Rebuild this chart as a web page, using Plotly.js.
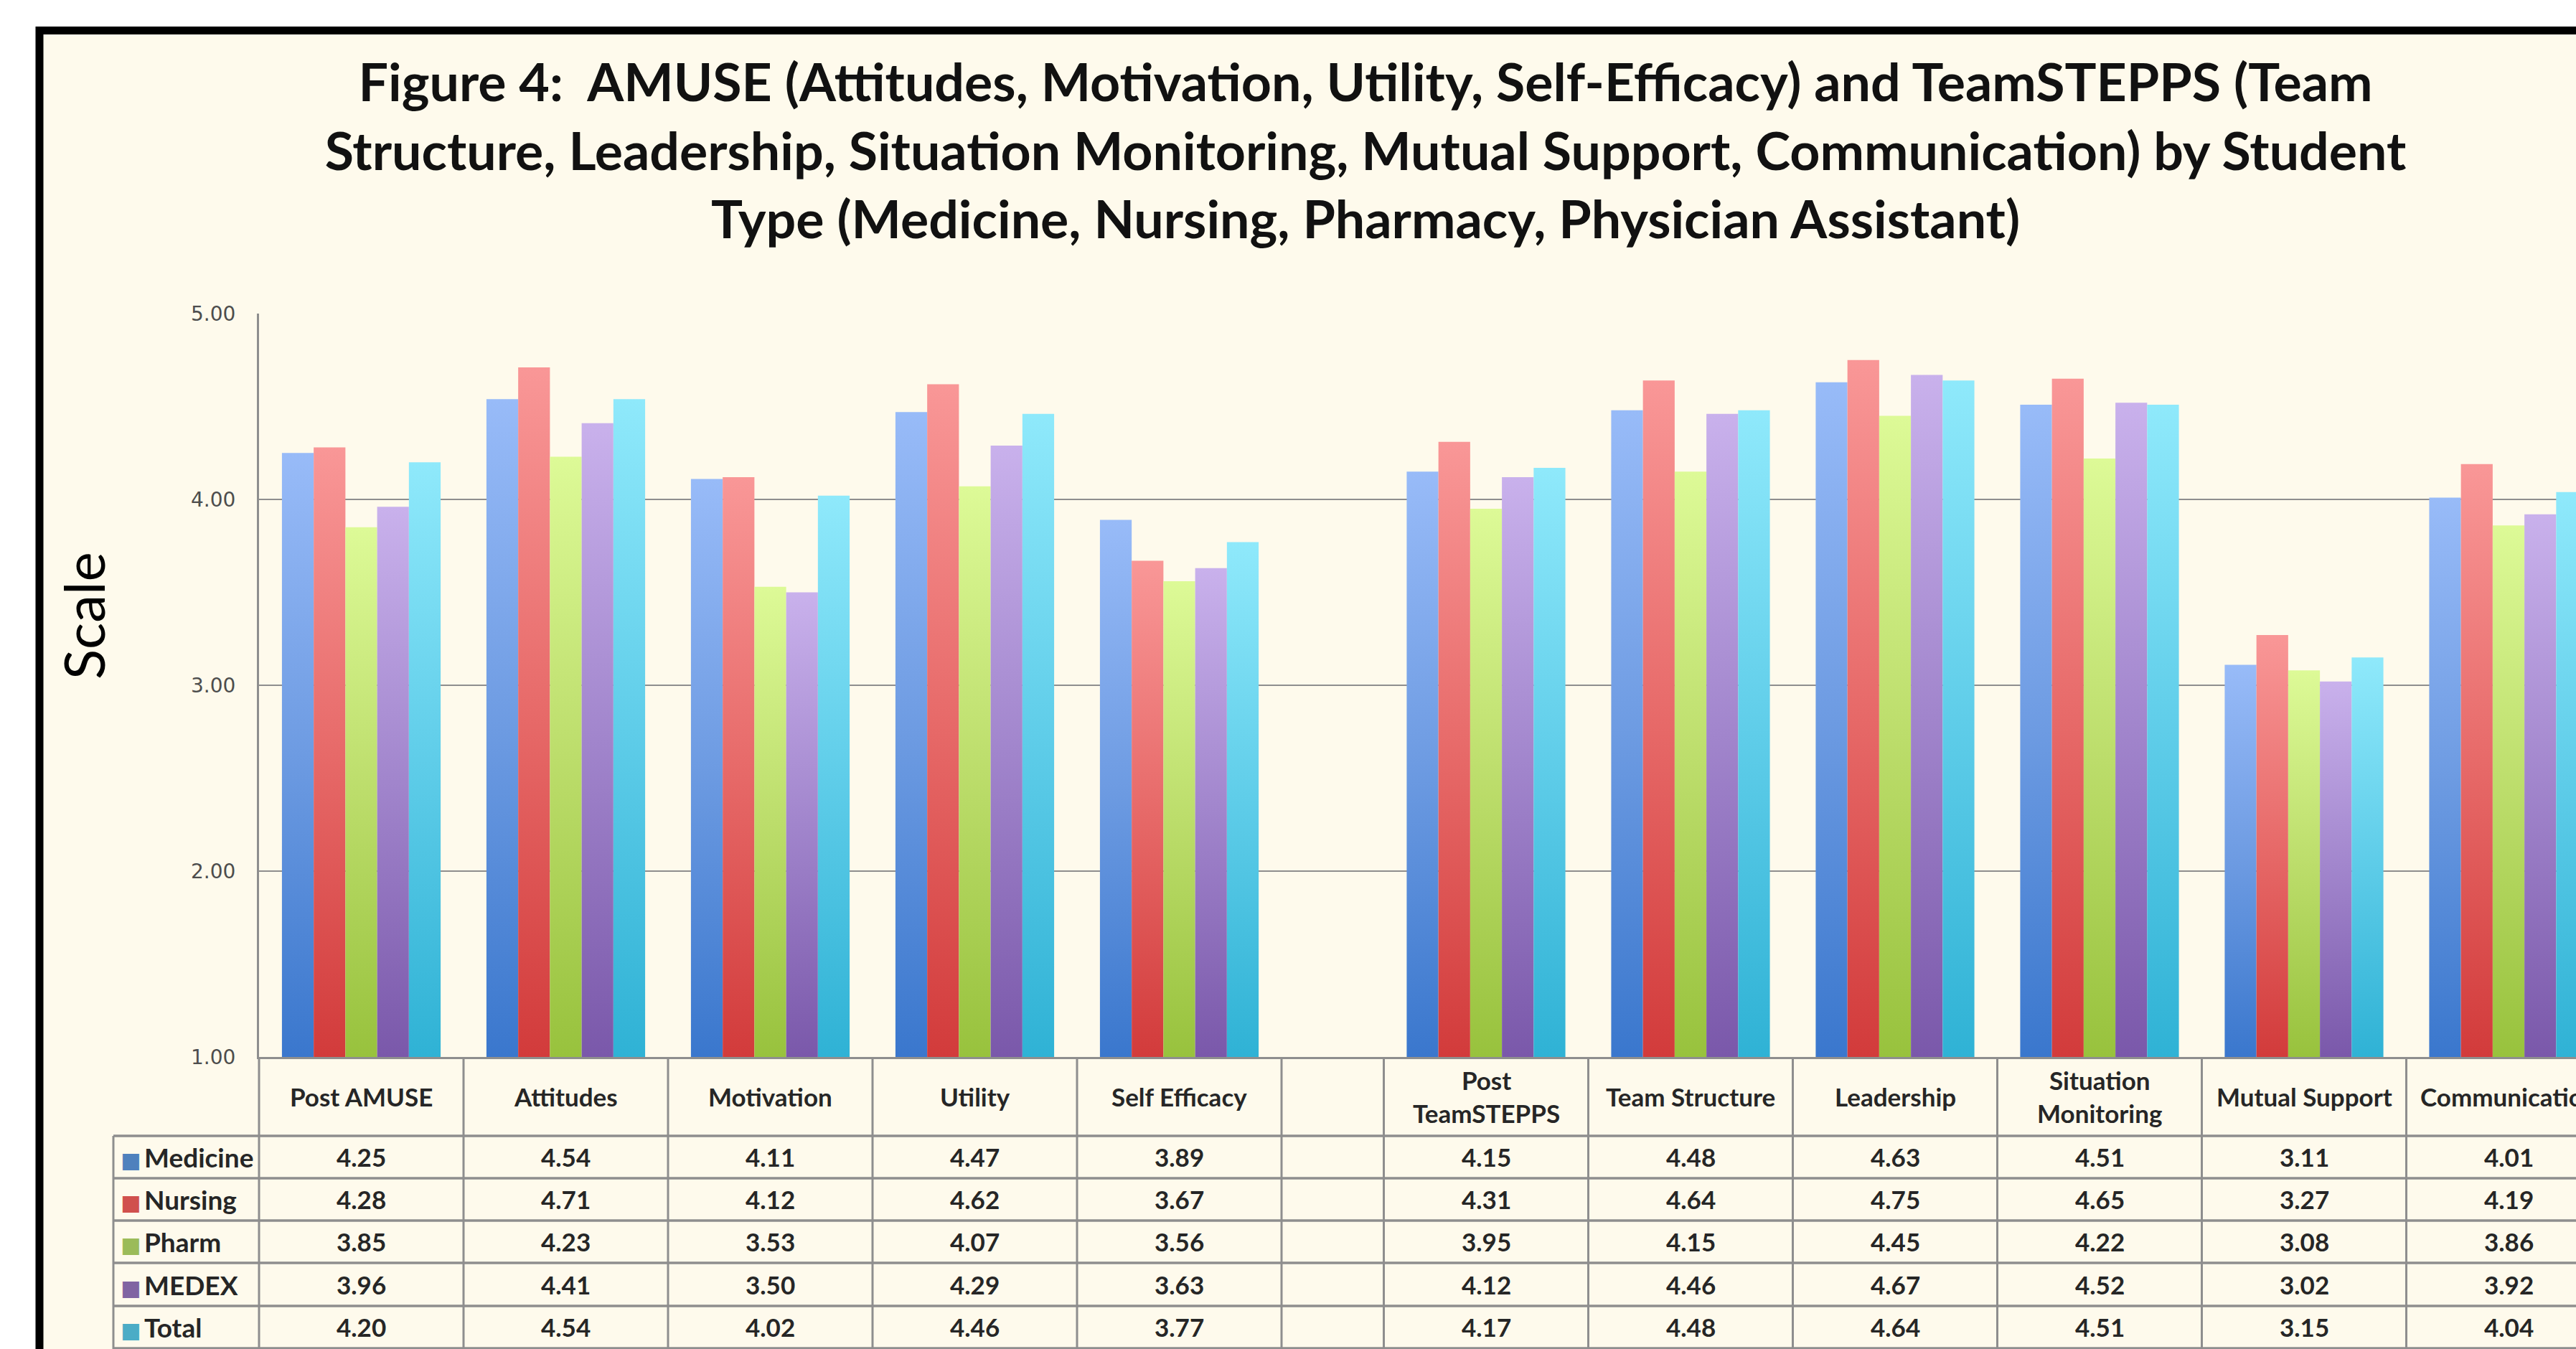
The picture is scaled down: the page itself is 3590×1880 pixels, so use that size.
<!DOCTYPE html>
<html>
<head>
<meta charset="utf-8">
<script src="https://cdn.plot.ly/plotly-3.0.1.min.js"></script>
<style>
html, body { margin: 0; padding: 0; background: #ffffff; }
#chart { width: 3590px; height: 1880px; }
</style>
</head>
<body>
<div id="chart"></div>
<script>
// ---------------- DATA ----------------
const categories = ['Post AMUSE', 'Attitudes', 'Motivation', 'Utility', 'Self Efficacy',
  'Post TeamSTEPPS', 'Team Structure', 'Leadership', 'Situation Monitoring', 'Mutual Support', 'Communication'];
const headerLabels = ['Post AMUSE', 'Attitudes', 'Motivation', 'Utility', 'Self Efficacy',
  'Post<br>TeamSTEPPS', 'Team Structure', 'Leadership', 'Situation<br>Monitoring', 'Mutual Support', 'Communication'];
const amuseCount = 5; // first block (AMUSE), then TeamSTEPPS block

const seriesNames = ['Medicine', 'Nursing', 'Pharm', 'MEDEX', 'Total'];
const medicine = [4.25, 4.54, 4.11, 4.47, 3.89, 4.15, 4.48, 4.63, 4.51, 3.11, 4.01];
const nursing  = [4.28, 4.71, 4.12, 4.62, 3.67, 4.31, 4.64, 4.75, 4.65, 3.27, 4.19];
const pharm    = [3.85, 4.23, 3.53, 4.07, 3.56, 3.95, 4.15, 4.45, 4.22, 3.08, 3.86];
const medex    = [3.96, 4.41, 3.50, 4.29, 3.63, 4.12, 4.46, 4.67, 4.52, 3.02, 3.92];
const total    = [4.20, 4.54, 4.02, 4.46, 3.77, 4.17, 4.48, 4.64, 4.51, 3.15, 4.04];

const yTickVals = [1, 2, 3, 4, 5];
const yTickText = ['1.00', '2.00', '3.00', '4.00', '5.00'];

const titleText = 'Figure 4:\u00A0 AMUSE (Attitudes, Motivation, Utility, Self-Efficacy) and TeamSTEPPS (Team<br>' +
  'Structure, Leadership, Situation Monitoring, Mutual Support, Communication) by Student<br>' +
  'Type (Medicine, Nursing, Pharmacy, Physician Assistant)';
const yTitle = 'Scale';

// ---------------- STYLE / LAYOUT ----------------
const seriesValues = [medicine, nursing, pharm, medex, total];
const barColors = ['#6897E0', '#E26966', '#B8DB6A', '#A086CB', '#5DC9E5'];
// gradient stops per series: [top, middle, bottom]
const barGradients = [
  ['#98BBF8', '#6D9BE2', '#3A77CD'],
  ['#F99797', '#E76A69', '#D23B3B'],
  ['#DDFA97', '#BCDD6B', '#98C23D'],
  ['#C9B1EC', '#A185CC', '#7A58AA'],
  ['#8FE9FB', '#5FCDE9', '#2FB2D5']
];
const keyColors = ['#4F81BD', '#D0504D', '#9BBB59', '#8064A2', '#4BACC6'];

const W = 3590, H = 1880;
const M = { l: 361, r: 0, t: 437, b: 407 };
const plotW = W - M.l - M.r, plotH = H - M.t - M.b;
const catPx = 285;               // pixel width of one category
const blockGap = 0.5;            // blank half-column between the two blocks
const xRange = [-0.5, -0.5 + plotW / catPx];

const xPos = categories.map((c, i) => i + (i >= amuseCount ? blockGap : 0));

const px2x = px => (px - M.l) / plotW;          // pixel -> paper x
const py2y = py => (H - M.b - py) / plotH;      // pixel -> paper y

const cream = '#FEFAEC';
const lineGray = '#8E8E8E';
const textDark = '#262626';

const traces = seriesNames.map((name, s) => ({
  type: 'bar',
  name: name,
  x: xPos,
  y: seriesValues[s].map(v => v - 1),
  base: 1,
  customdata: seriesValues[s],
  hovertext: categories,
  hovertemplate: '%{hovertext}<br>' + name + ': %{customdata:.2f}<extra></extra>',
  marker: { color: barColors[s], line: { width: 0 } }
}));

// table geometry (pixels)
const headerCenterPx = 1528;
const rowLinesPx = [1583, 1642, 1701, 1760, 1820, 1879];
const rowCentersPx = [1612, 1671, 1730, 1790, 1849];
const tableLeftPx = 158;

const shapes = [];
// cream panel with black frame
shapes.push({
  type: 'rect', xref: 'paper', yref: 'paper', layer: 'below',
  x0: px2x(55), x1: px2x(3700), y0: py2y(42.5), y1: py2y(2050),
  fillcolor: cream, line: { color: '#000000', width: 11 }
});
// vertical table lines at category boundaries
const bounds = [];
xPos.forEach(p => { [p - 0.5, p + 0.5].forEach(b => { if (!bounds.some(v => Math.abs(v - b) < 1e-9)) bounds.push(b); }); });
bounds.forEach(b => {
  if (Math.abs(b - xRange[0]) < 1e-9) {
    shapes.push({ type: 'line', xref: 'paper', yref: 'paper', x0: 0, x1: 0, y0: 0, y1: py2y(H + 5),
      line: { color: lineGray, width: 3 } });
  } else {
    shapes.push({ type: 'line', xref: 'x', yref: 'paper', x0: b, x1: b, y0: 0, y1: py2y(H + 5),
      line: { color: lineGray, width: 3 } });
  }
});
// horizontal row lines
rowLinesPx.forEach(py => {
  shapes.push({ type: 'line', xref: 'paper', yref: 'paper', x0: px2x(tableLeftPx), x1: 1.01, y0: py2y(py), y1: py2y(py),
    line: { color: lineGray, width: 3.5 } });
});
// left border of the row-header column
shapes.push({ type: 'line', xref: 'paper', yref: 'paper', x0: px2x(tableLeftPx), x1: px2x(tableLeftPx),
  y0: py2y(rowLinesPx[0]), y1: py2y(H + 5), line: { color: lineGray, width: 3 } });

const annotations = [];
const cellFont = { family: 'Lato, "DejaVu Sans", sans-serif', size: 35, color: textDark, weight: 700 };
headerLabels.forEach((lab, i) => {
  annotations.push({ xref: 'x', yref: 'paper', x: xPos[i], y: py2y(headerCenterPx), text: lab,
    showarrow: false, xanchor: 'center', yanchor: 'middle', font: cellFont, align: 'center' });
});
seriesValues.forEach((vals, s) => {
  vals.forEach((v, i) => {
    annotations.push({ xref: 'x', yref: 'paper', x: xPos[i], y: py2y(rowCentersPx[s]), text: v.toFixed(2),
      showarrow: false, xanchor: 'center', yanchor: 'middle', font: cellFont });
  });
  annotations.push({ xref: 'paper', yref: 'paper', x: px2x(166), y: py2y(rowCentersPx[s]),
    text: '<span style="color:' + keyColors[s] + ';font-size:30px">\u25A0</span>\u2009' + seriesNames[s],
    showarrow: false, xanchor: 'left', yanchor: 'middle',
    font: { family: 'Lato, "DejaVu Sans", sans-serif', size: 37, color: textDark, weight: 700 } });
});
// y-axis title
annotations.push({ xref: 'paper', yref: 'paper', x: px2x(116), y: py2y(858), text: yTitle, textangle: -90,
  showarrow: false, xanchor: 'center', yanchor: 'middle',
  font: { family: 'Lato, sans-serif', size: 78, color: '#000000' } });

const layout = {
  width: W, height: H,
  margin: { l: M.l, r: M.r, t: M.t, b: M.b, pad: 0 },
  paper_bgcolor: '#ffffff',
  plot_bgcolor: 'rgba(0,0,0,0)',
  font: { family: 'Lato, "DejaVu Sans", sans-serif', color: textDark },
  title: {
    text: titleText,
    x: 1903 / W, xanchor: 'center',
    y: 1 - 141 / H, yanchor: 'top',
    font: { family: 'Lato, sans-serif', size: 73.5, color: '#111111', weight: 700 }
  },
  barmode: 'group', bargap: 0.224, bargroupgap: 0,
  showlegend: false,
  xaxis: {
    range: xRange, showticklabels: false, showgrid: false, zeroline: false,
    showline: true, linecolor: lineGray, linewidth: 3, ticks: '', fixedrange: true
  },
  yaxis: {
    range: [1, 5], tickmode: 'array', tickvals: yTickVals, ticktext: yTickText,
    showgrid: true, gridcolor: lineGray, gridwidth: 2.5, zeroline: false,
    showline: true, linecolor: lineGray, linewidth: 3, ticks: '',
    ticklabelstandoff: 24,
    tickfont: { family: '"DejaVu Sans", sans-serif', size: 28, color: '#4d4d4d' },
    fixedrange: true
  },
  shapes: shapes,
  annotations: annotations
};

function applyGradients(gd) {
  const svgNS = 'http://www.w3.org/2000/svg';
  const defs = gd.querySelector('.main-svg defs');
  if (!defs) return;
  barGradients.forEach((stops, s) => {
    const g = document.createElementNS(svgNS, 'linearGradient');
    g.setAttribute('id', 'barGrad' + s);
    g.setAttribute('x1', '0'); g.setAttribute('y1', '0');
    g.setAttribute('x2', '0'); g.setAttribute('y2', '1');
    [[0, stops[0]], [0.5, stops[1]], [1, stops[2]]].forEach(([off, col]) => {
      const st = document.createElementNS(svgNS, 'stop');
      st.setAttribute('offset', off);
      st.setAttribute('stop-color', col);
      g.appendChild(st);
    });
    defs.appendChild(g);
  });
  const traceGroups = gd.querySelectorAll('.barlayer .trace');
  traceGroups.forEach((tg, s) => {
    tg.querySelectorAll('path').forEach(p => { p.style.fill = 'url(#barGrad' + s + ')'; });
  });
}

Plotly.newPlot('chart', traces, layout, { displayModeBar: false, staticPlot: true })
  .then(gd => applyGradients(gd));
</script>
</body>
</html>
